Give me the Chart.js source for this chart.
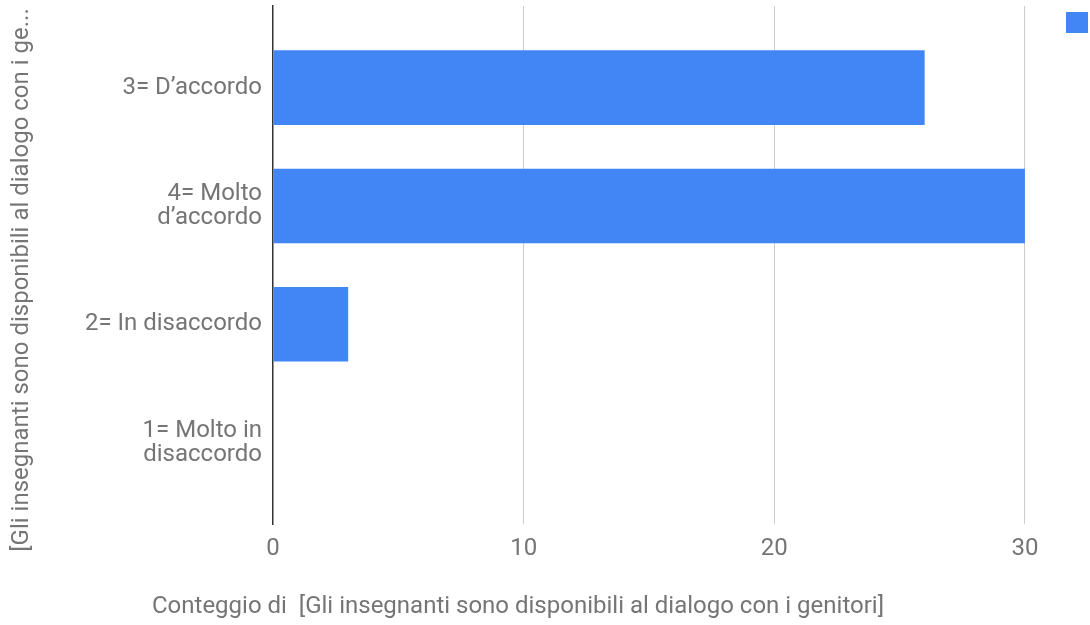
<!DOCTYPE html>
<html>
<head>
<meta charset="utf-8">
<script src="https://cdn.jsdelivr.net/npm/chart.js@4.4.1/dist/chart.umd.min.js"></script>
<style>
  html, body { margin: 0; padding: 0; background: #fff; overflow: hidden; }
  canvas { display: block; }
</style>
</head>
<body>
<canvas id="chart" width="1104" height="625"></canvas>
<script>
// answers, top to bottom as they appear in the sheet chart
var categories = [['3= D’accordo'], ['4= Molto', 'd’accordo'], ['2= In disaccordo'], ['1= Molto in', 'disaccordo']];
var counts = [26, 30, 3, 0];
var xTicks = [0, 10, 20, 30];

var xTitle = 'Conteggio di  [Gli insegnanti sono disponibili al dialogo con i genitori]';
var yTitle = '[Gli insegnanti sono disponibili al dialogo con i ge...';

var textColor = '#757575';
var fontSize = 24;

Chart.defaults.font.family = 'Roboto';
Chart.defaults.color = textColor;

// axis titles are not centred on the plot in the original, so place them by hand
var axisTitles = {
    id: 'axisTitles',
    afterDraw: function(chart){
        var ctx = chart.ctx;
        ctx.save();
        ctx.fillStyle = textColor;
        ctx.font = fontSize + 'px Roboto';
        ctx.textAlign = 'center';
        ctx.textBaseline = 'middle';
        ctx.fillText(xTitle, 518, 607);
        ctx.translate(22, 280);
        ctx.rotate(-Math.PI / 2);
        ctx.fillText(yTitle, 0, 0);
        ctx.restore();
    }
};

var ctx = document.getElementById('chart').getContext('2d');
var myChart = new Chart(ctx, {
    type: 'bar',
    data: {
        datasets: [{
            label: '',
            data: counts.map(function(v, i){ return {x: v, y: i}; }),
            backgroundColor: '#4285f4',
            borderWidth: 0,
            categoryPercentage: 1,
            barPercentage: 0.63
        }]
    },
    plugins: [axisTitles],
    options: {
        indexAxis: 'y',
        responsive: false,
        animation: false,
        devicePixelRatio: 1,
        layout: {
            padding: {top: 6, bottom: 52}
        },
        plugins: {
            legend: {
                position: 'right',
                align: 'start',
                labels: {
                    boxWidth: 22,
                    boxHeight: 21,
                    padding: 6,
                    font: {size: 12}
                }
            },
            tooltip: {enabled: false}
        },
        scales: {
            x: {
                type: 'linear',
                min: 0,
                max: 31.4,
                afterBuildTicks: function(scale){
                    scale.ticks = xTicks.map(function(v){ return {value: v}; });
                },
                ticks: {
                    font: {size: fontSize},
                    padding: 10
                },
                grid: {
                    drawTicks: false,
                    color: function(c){ return c.tick && c.tick.value === 0 ? 'rgba(0,0,0,0)' : '#cccccc'; }
                },
                border: {display: false}
            },
            y: {
                type: 'linear',
                reverse: true,
                offset: false,
                bounds: 'data',
                min: -0.69,
                max: 3.69,
                afterBuildTicks: function(scale){
                    scale.ticks = categories.map(function(c, i){ return {value: i}; });
                },
                afterFit: function(scale){
                    scale.width = 273;
                    scale.paddingTop = 0;
                    scale.paddingBottom = 0;
                },
                ticks: {
                    font: {size: fontSize, lineHeight: 1.0},
                    padding: 11,
                    callback: function(v){ return categories[v]; }
                },
                grid: {display: false, drawTicks: false},
                border: {color: '#333333', width: 1.5}
            }
        }
    }
});
</script>
</body>
</html>
